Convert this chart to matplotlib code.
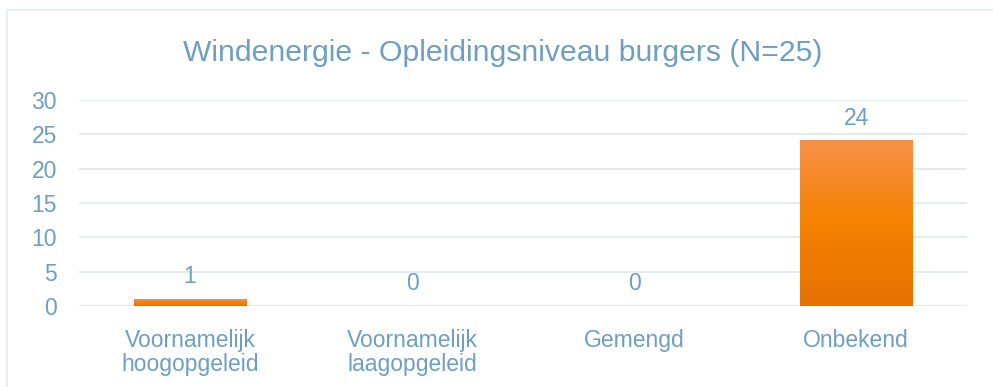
import matplotlib
matplotlib.use('Agg')
import matplotlib.pyplot as plt
import numpy as np
from matplotlib.colors import LinearSegmentedColormap
from matplotlib.patches import Rectangle

categories = ['Voornamelijk\nhoogopgeleid', 'Voornamelijk\nlaagopgeleid', 'Gemengd', 'Onbekend']
counts = [1, 0, 0, 24]
yticks = [0, 5, 10, 15, 20, 25, 30]

TEXT = '#6E9FC3'
GRID = '#E4EBF2'

plt.rcParams['font.family'] = ['Liberation Sans', 'DejaVu Sans']

fig = plt.figure(figsize=(9.93, 3.87), dpi=100)
ax = fig.add_axes([0.0796, 0.209, 0.8944, 0.533])

# outer frame of the chart area
fig.patches.append(Rectangle((7 / 993, -0.1), 1.1, 1 - 10 / 387 + 0.1,
                             transform=fig.transFigure, fill=False,
                             edgecolor='#E6EEF5', linewidth=1.6))

x = np.arange(len(categories))
width = 0.505
bars = ax.bar(x, counts, width=width, color='#F58200', zorder=2)

# vertical orange gradient on each bar
grad = LinearSegmentedColormap.from_list('bar', ['#E57200', '#F58200', '#F7914A'])
g = np.linspace(0, 1, 256).reshape(-1, 1)
for b in bars:
    if b.get_height() <= 0:
        continue
    x0, w, h = b.get_x(), b.get_width(), b.get_height()
    ax.imshow(g, cmap=grad, origin='lower', aspect='auto',
              extent=(x0, x0 + w, 0, h), zorder=3)

for xi, v in zip(x, counts):
    ax.annotate(str(v), (xi, v), xytext=(0, 16.5), textcoords='offset points',
                ha='center', va='center', color=TEXT, fontsize=16.5)

ax.set_xlim(-0.5, len(categories) - 0.5)
ax.set_ylim(0, 30)
ax.set_yticks(yticks)
ax.set_xticks(x)
ax.set_xticklabels(categories, color=TEXT, fontsize=16.5, linespacing=1.05)
ax.tick_params(axis='y', colors=TEXT, labelsize=16.5, length=0, pad=16)
ax.tick_params(axis='x', length=0, pad=16.5)
ax.grid(axis='y', color=GRID, linewidth=1.5, zorder=0)
ax.set_axisbelow(True)
for s in ax.spines.values():
    s.set_visible(False)

fig.text(0.506, 0.863, 'Windenergie - Opleidingsniveau burgers (N=25)',
         ha='center', va='center', color=TEXT, fontsize=21.7)

fig.savefig('out.png', dpi=100)
